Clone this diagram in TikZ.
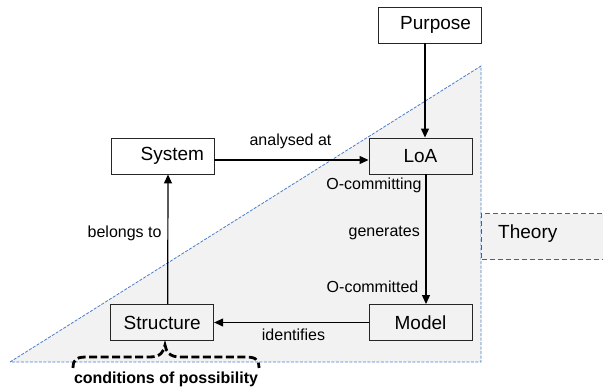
\documentclass[tikz,border=0pt]{standalone}
\usepackage{fontspec}
\setmainfont{Liberation Sans}
\usetikzlibrary{arrows.meta}
\definecolor{trifill}{HTML}{F2F2F2}
\definecolor{triedge}{HTML}{4A7EC8}
\definecolor{theoedge}{HTML}{41618F}
\tikzset{
  box/.style={draw=black!85, line width=0.9pt, minimum width=103pt, minimum height=36pt, inner sep=0pt, font=\fontsize{19}{22}\selectfont},
  rbox/.style={box, text width=83pt, align=right},
  lbl/.style={inner sep=0pt, font=\fontsize{16}{19}\selectfont},
  arr/.style={line width=1.2pt, -{Triangle[length=9pt,width=8pt]}},
}
\begin{document}
\begin{tikzpicture}[x=1pt,y=-1pt]
\useasboundingbox (0,0) rectangle (603,390);
% triangle (theory region)
\fill[trifill] (10,362) -- (481,66) -- (481,362) -- cycle;
\draw[triedge, line width=0.8pt, dash pattern=on 3pt off 1.5pt] (10,362) -- (481,66) -- (481,362) -- cycle;
% Theory box
\fill[trifill] (481,214) rectangle (610,260);
\draw[theoedge, line width=1pt, dash pattern=on 5pt off 3pt] (610,214) -- (481,214) -- (481,260) -- (610,260);
\node[anchor=west, inner sep=0pt, font=\fontsize{19}{22}\selectfont] (theory) at (498,234) {Theory};
% boxes
\node[rbox] (purpose) at (429.5,25) {Purpose};
\node[rbox] (system) at (162.5,156) {System};
\node[box] (loa) at (420.5,156) {LoA};
\node[box] (model) at (420.5,322.5) {Model};
\node[box] (structure) at (162.2,322.5) {Structure};
% connectors
\draw[arr] ([xshift=-4.5pt]purpose.south) -- ([xshift=4.5pt]loa.north);
\draw[arr] ([yshift=-4pt]system.east) -- ([yshift=-4pt]loa.west);
\draw[arr] ([xshift=5.5pt]loa.south) -- ([xshift=5.5pt]model.north);
\draw[arr] (model.west) -- (structure.east);
\draw[arr] ([xshift=5.5pt]structure.north) -- ([xshift=5.5pt]system.south);
% labels
\node[lbl] (l1) at (290.5,141) {analysed at};
\node[lbl, anchor=east] (l2) at (421.7,185) {O-committing};
\node[lbl, anchor=east] (l3) at (420,233) {generates};
\node[lbl, anchor=east] (l4) at (418.5,287) {O-committed};
\node[lbl] (l5) at (293.5,335) {identifies};
\node[lbl, anchor=east] (l6) at (161.7,233) {belongs to};
% brace
\coordinate (bl) at (73,368);
\coordinate (br) at (259,368);
\coordinate (btip) at (165,345);
\draw[line width=2.8pt, dash pattern=on 8pt off 3.5pt, line cap=butt]
  (bl) .. controls (73,358) and (78,357) .. (88,357) -- (150,357)
  .. controls (160,357) and (164,352) .. (btip)
  .. controls (166,352) and (170,357) .. (180,357) -- (244,357)
  .. controls (254,357) and (259,358) .. (br);
\node[inner sep=0pt, font=\bfseries\fontsize{16}{19}\selectfont] (cond) at (166,379) {conditions of possibility};
\end{tikzpicture}
\end{document}
